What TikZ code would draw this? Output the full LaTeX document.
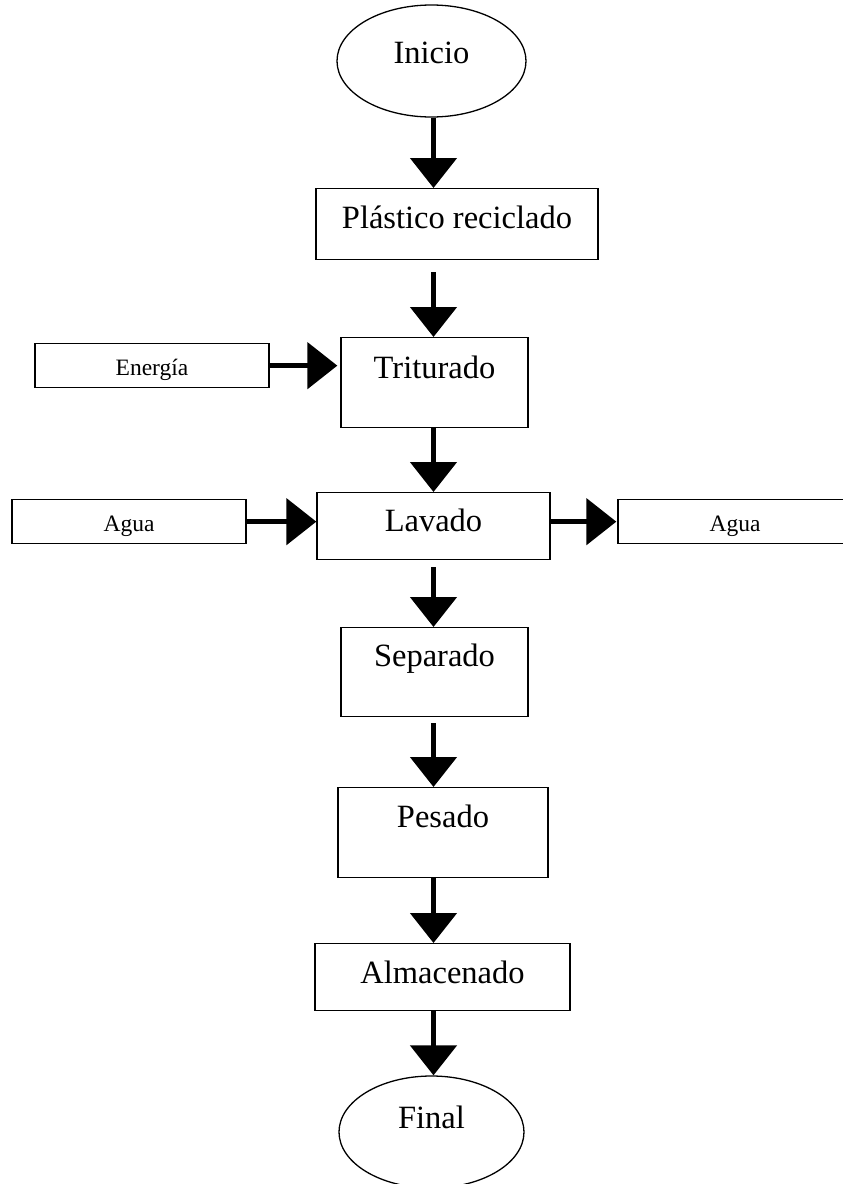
\documentclass[tikz,border=0pt]{standalone}
\usepackage{fontspec}
\setmainfont{Liberation Serif}
\usetikzlibrary{arrows.meta, positioning, shapes.geometric}

\begin{document}
\begin{tikzpicture}[x=1pt,y=-1pt,>={Triangle[length=30pt,width=46pt]},
        every node/.style={font=\fontsize{32.5}{39}\selectfont},
        paso/.style={draw,line width=1.3pt,rectangle,inner sep=0pt},
        extremo/.style={draw,line width=1.3pt,ellipse,inner sep=0pt},
        entrada/.style={paso,minimum width=234pt,text height=32pt,text depth=12pt,
            font=\fontsize{23.5}{28}\selectfont},
        flujo/.style={->,line width=5pt}]

        \useasboundingbox (0,0) rectangle (843,1184);

        \node[extremo,minimum width=189pt,minimum height=112pt,text height=24pt,text depth=20pt] (inicio) at (431.5,61) {Inicio};
        \node[paso,anchor=north,minimum width=282pt,text height=40pt,text depth=31pt] (plastico) at (457,188) {Plástico reciclado};
        \node[paso,anchor=north,minimum width=187pt,text height=41pt,text depth=49pt] (tri) at (434.5,337) {Triturado};
        \node[entrada,anchor=north] (energia) at (152,343) {Energía};
        \node[paso,anchor=north,minimum width=233pt,text height=39pt,text depth=28pt] (lav) at (433.5,492) {Lavado};
        \node[entrada,anchor=north] (agua1) at (129,499) {Agua};
        \node[entrada,anchor=north] (agua2) at (735,499) {Agua};
        \node[paso,anchor=north,minimum width=187pt,text height=39pt,text depth=50pt] (sep) at (434.5,627) {Separado};
        \node[paso,anchor=north,minimum width=210pt,text height=40pt,text depth=50pt] (pes) at (443,787) {Pesado};
        \node[paso,anchor=north,minimum width=255pt,text height=40pt,text depth=27pt] (alm) at (442.5,943) {Almacenado};
        \node[extremo,minimum width=185pt,minimum height=112pt,text height=20pt,text depth=28pt] (final) at (431.5,1132) {Final};

        % flujo principal
        \draw[flujo] (inicio.south -| lav) -- (plastico.north -| lav);
        \draw[flujo,shorten <=12pt] (plastico.south -| lav) -- (tri.north -| lav);
        \draw[flujo] (tri.south -| lav) -- (lav.north);
        \draw[flujo,shorten <=7pt] (lav.south) -- (sep.north -| lav);
        \draw[flujo,shorten <=6pt] (sep.south -| lav) -- (pes.north -| lav);
        \draw[flujo] (pes.south -| lav) -- (alm.north -| lav);
        \draw[flujo] (alm.south -| lav) -- (final.north -| lav);

        % entradas y salidas
        \draw[flujo,shorten >=3pt] (energia.east) -- (energia.east -| tri.west);
        \draw[flujo] (agua1.east) -- (agua1.east -| lav.west);
        \draw[flujo,shorten >=1pt] (lav.east |- agua2) -- (agua2.west);
\end{tikzpicture}
\end{document}
